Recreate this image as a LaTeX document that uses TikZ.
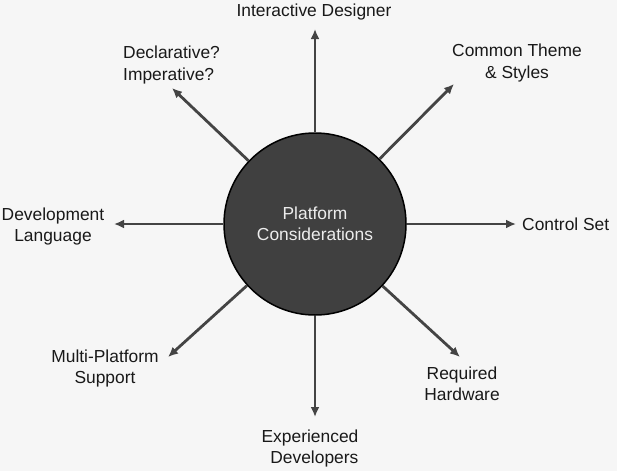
\documentclass[tikz,border=0pt]{standalone}
\usepackage{fontspec}
\setmainfont{Liberation Sans}
\usepackage{tikz}
\usetikzlibrary{positioning,arrows.meta}
\definecolor{hubgray}{HTML}{404040}
\definecolor{linegray}{HTML}{444444}
\definecolor{bggray}{HTML}{F6F6F6}
\tikzstyle{hub} = [draw=black, line width=1.5pt, fill=hubgray, circle, minimum size=182pt, inner sep=0pt, align=center, text=white!93!black]
\tikzstyle{topic} = [align=center, text=black!90, inner sep=0pt]
\tikzstyle{coord} = [coordinate]

\begin{document}
\begin{tikzpicture}[x=1pt,y=-1pt,font=\fontsize{17.4}{21}\selectfont,>={Latex[length=10pt,width=9pt]}]
		\fill[bggray] (0,0) rectangle (617,471);
		\useasboundingbox (0,0) rectangle (617,471);

		\node (hub) [hub] at (315,224) {Platform\\Considerations};

		% arrow tips
		\coordinate (tipA) at (315,29);
		\coordinate (tipB) at (454,84);
		\coordinate (tipC) at (516,224);
		\coordinate (tipD) at (460,357);
		\coordinate (tipE) at (315,417);
		\coordinate (tipF) at (168,357);
		\coordinate (tipG) at (114,224);
		\coordinate (tipH) at (172,88);

		% labels
		\node (designer) [topic] at (314,12) {Interactive Designer};
		\node (theme) [topic] at (517,63) {Common Theme\\\& Styles};
		\node (controls) [topic, anchor=west] at (522,224) {Control Set};
		\node (hardware) [topic] at (462,384) {Required\\Hardware};
		\node (devs) [topic, align=right] at (310,448) {Experienced\\Developers};
		\node (multi) [topic] at (105,368) {Multi-Platform\\Support};
		\node (lang) [topic] at (53,226) {Development\\Language};
		\node (style) [topic, align=left, anchor=west] at (123,65) {Declarative?\\Imperative?};

		\begin{scope}[->, draw=linegray, line width=2.8pt]
			\draw (hub) -- (tipA);
			\draw (hub) -- (tipB);
			\draw (hub) -- (tipC);
			\draw (hub) -- (tipD);
			\draw (hub) -- (tipE);
			\draw (hub) -- (tipF);
			\draw (hub) -- (tipG);
			\draw (hub) -- (tipH);
		\end{scope}
	\end{tikzpicture}
\end{document}
